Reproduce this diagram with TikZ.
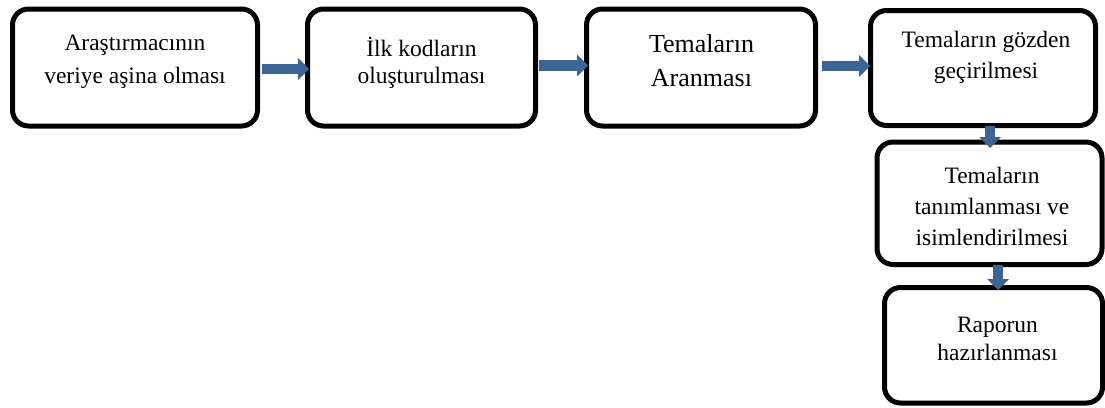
\documentclass[tikz,border=0pt]{standalone}
\usepackage{fontspec}
\setmainfont{Liberation Serif}
\usetikzlibrary{arrows.meta}
\definecolor{arrowblue}{RGB}{60,101,150}
\begin{document}
\begin{tikzpicture}[x=1pt,y=-1pt,
  box/.style={draw=black, line width=5pt, rounded corners=16pt, inner sep=0pt, outer sep=0pt},
  boxtext/.style={anchor=base, align=center, inner sep=0pt, font=\fontsize{23.5}{#1}\selectfont},
  bigtext/.style={anchor=base, align=center, inner sep=0pt, font=\fontsize{26}{#1}\selectfont},
  flow/.style={draw=arrowblue, line width=10.5pt, -{Triangle[length=11pt,width=22pt,line width=0pt]}}]
\useasboundingbox (0,0) rectangle (1105,407);
% boxes
\node[box, minimum width=245pt, minimum height=117pt] (b1) at (135,67.5) {};
\node[box, minimum width=228pt, minimum height=117pt] (b2) at (421.5,67.5) {};
\node[box, minimum width=229pt, minimum height=117pt] (b3) at (701,67.5) {};
\node[box, minimum width=225pt, minimum height=115pt] (b4) at (983,68) {};
\node[box, minimum width=225pt, minimum height=122.5pt] (b5) at (989.5,203.25) {};
\node[box, minimum width=218pt, minimum height=115.5pt] (b6) at (993.5,345.25) {};
% texts (anchor = baseline of last line)
\node[boxtext=33pt] (t1) at (135,83) {Araştırmacının\\veriye aşina olması};
\node[boxtext=27pt] (t2) at (421.5,83) {İlk kodların\\oluşturulması};
\node[bigtext=34pt] (t3) at (701.5,86) {Temaların\\Aranması};
\node[boxtext=31pt] (t4) at (986,78) {Temaların gözden\\geçirilmesi};
\node[boxtext=31pt] (t5) at (992,245) {Temaların\\tanımlanması ve\\isimlendirilmesi};
\node[boxtext=28pt] (t6) at (997.5,360) {Raporun\\hazırlanması};
% arrows
\draw[flow] ([xshift=4.5pt,yshift=-1.5pt]b1.east) -- ([xshift=1.5pt,yshift=-1.5pt]b2.west);
\draw[flow] ([xshift=3.5pt,yshift=2pt]b2.east) -- ([xshift=1.5pt,yshift=2pt]b3.west);
\draw[flow] ([xshift=6.5pt,yshift=1.5pt]b3.east) -- ([xshift=-0.5pt,yshift=2pt]b4.west);
\draw[flow] ([xshift=7pt]b4.south) -- ([xshift=0.5pt,yshift=-6pt]b5.north);
\draw[flow] ([xshift=8.5pt]b5.south) -- ([xshift=4.5pt,yshift=-2.5pt]b6.north);
\end{tikzpicture}
\end{document}
